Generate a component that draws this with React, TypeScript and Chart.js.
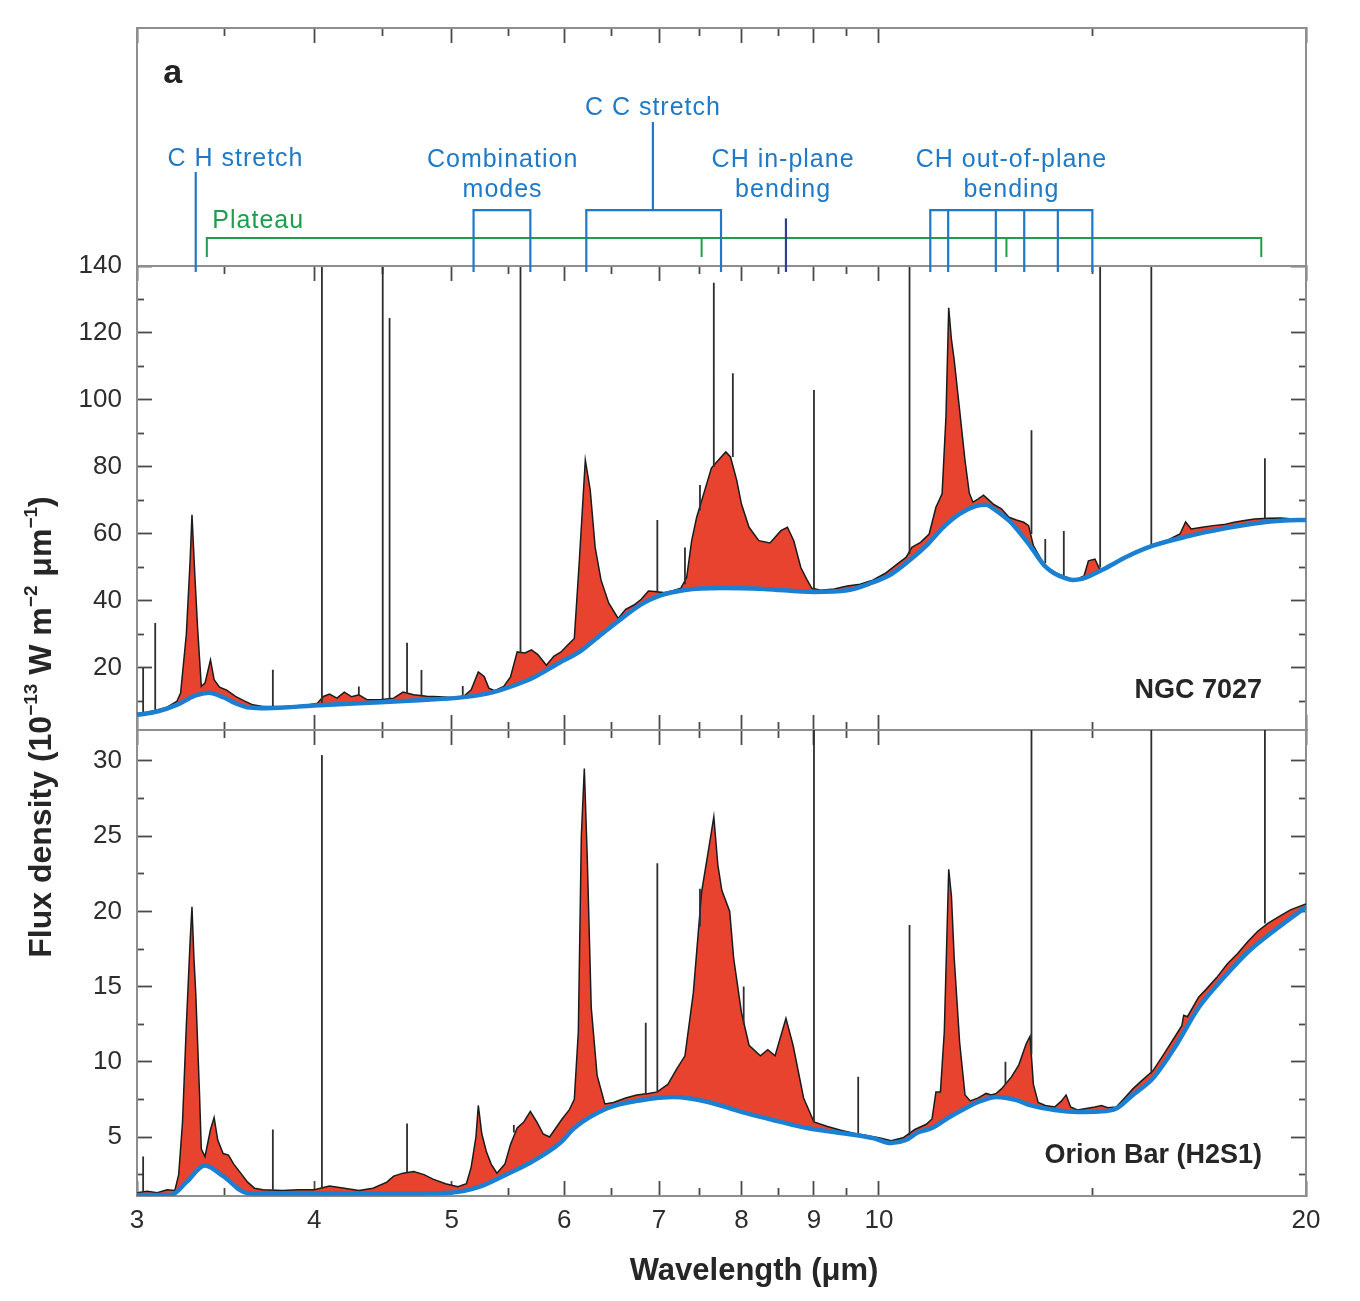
import React, { useEffect, useRef } from 'react';
import { Chart, registerables } from 'chart.js';

Chart.register(...registerables);

// ---------------- data ----------------
const X_MAJOR_TICKS = [3, 4, 5, 6, 7, 8, 9, 10, 20];
const X_MINOR_TICKS = [3.46, 4.47, 5.48, 6.48, 7.48, 8.49, 9.49, 14.14];
const NGC_Y_MAJOR = [20, 40, 60, 80, 100, 120, 140];
const NGC_Y_MINOR = [10, 30, 50, 70, 90, 110, 130];
const ORI_Y_MAJOR = [5, 10, 15, 20, 25, 30];
const ORI_Y_MINOR = [2.5, 7.5, 12.5, 17.5, 22.5, 27.5];

// NGC 7027 spectrum (wavelength in micron, flux density)
const NGC_WL = [3.00,3.05,3.10,3.15,3.20,3.22,3.25,3.27,3.28,3.295,3.31,3.33,3.35,3.38,3.40,3.43,3.47,3.52,3.57,3.62,3.68,3.80,3.95,4.02,4.06,4.10,4.15,4.20,4.25,4.30,4.36,4.45,4.55,4.62,4.70,4.80,4.90,5.00,5.10,5.16,5.22,5.27,5.31,5.36,5.44,5.50,5.56,5.63,5.69,5.75,5.83,5.90,5.97,6.04,6.10,6.15,6.21,6.26,6.31,6.37,6.45,6.55,6.63,6.72,6.80,6.88,6.95,7.05,7.15,7.25,7.32,7.38,7.44,7.55,7.62,7.73,7.80,7.86,7.94,8.00,8.10,8.23,8.38,8.53,8.62,8.71,8.81,8.90,8.97,9.10,9.30,9.50,9.70,9.90,10.10,10.30,10.45,10.55,10.70,10.85,10.97,11.08,11.15,11.20,11.25,11.30,11.40,11.50,11.58,11.65,11.75,11.85,11.95,12.05,12.20,12.35,12.50,12.65,12.75,12.85,12.95,13.05,13.20,13.35,13.50,13.65,13.80,13.95,14.05,14.20,14.32,14.50,14.80,15.10,15.40,15.70,16.00,16.30,16.45,16.60,16.90,17.20,17.50,17.80,18.10,18.40,18.80,19.20,19.60,20.00];
const NGC_FLUX = [6.4,6.8,7.5,8.3,10.0,12.5,30,52,65.7,48,32,14.5,15.5,22.4,16.5,14.3,13.4,11.5,10.2,9.0,8.5,8.5,8.9,9.5,11.5,12.2,11.0,12.8,11.4,12.0,10.5,10.5,11.0,12.8,12.0,11.6,11.4,11.2,11.6,13.5,18.8,17.5,14.0,13.2,14.5,17.3,24.8,24.5,25.4,24.0,20.8,23.5,24.8,27.0,28.8,52,82.1,73,56,46.3,39.4,34.8,37.5,38.8,40.5,43,42.8,42.5,43,43.8,47,58,65,74,79.7,82.7,84.5,83,76,69,62,58,57.3,61,62,58,50,46.3,43.8,43.2,43.6,44.5,45,46.2,48.2,51,53,56,57.5,60,68,72,95,127.5,118,112,97,82,72.2,69.5,70.5,71.6,70.2,68.8,67.5,65,64.2,63.5,62.5,56.5,54,51.5,49.5,48.2,47.4,46.6,46.6,47.5,52,52.5,49.2,50.5,52.5,54.4,55.9,57.2,58.3,60,63.6,61.5,62,62.5,62.8,63.5,64,64.5,64.7,64.8,64.5,64.3];
const NGC_CONT_WL = [3.00,3.10,3.20,3.30,3.37,3.45,3.52,3.60,3.70,4.00,4.30,4.70,5.10,5.35,5.55,5.70,5.95,6.15,6.35,6.55,6.80,7.00,7.30,7.75,8.30,9.00,9.50,9.85,10.20,10.50,10.80,11.10,11.40,11.70,11.90,12.05,12.20,12.40,12.60,12.80,12.95,13.10,13.30,13.50,13.70,13.90,14.10,14.40,15.00,15.60,16.50,17.50,18.50,19.30,20.00];
const NGC_CONT = [6.0,7.0,9.0,11.8,12.6,11.3,9.5,8.2,8.0,8.8,9.5,10.3,11.3,12.8,15.0,17.0,21.5,24.8,29.5,34.0,39.0,41.5,43.3,43.9,43.6,42.7,43.2,45.2,48.0,52.0,56.5,62.0,66.0,68.3,68.7,67.5,65.8,63.3,59.8,56.1,53.0,50.3,48.2,47.0,46.3,46.6,47.6,49.5,53.5,56.5,59.3,61.6,63.3,64.0,64.2];
const NGC_LINE_WL = [3.03,3.09,3.74,4.05,4.30,4.47,4.52,4.65,4.76,5.09,5.59,6.98,7.30,7.48,7.65,7.89,9.00,10.51,12.81,13.10,13.50,14.32,15.56,18.71];
const NGC_LINE_BASE = [6.7,7.4,8.4,9.5,11.8,10.5,10.8,12.5,11.7,11.4,24.6,42.7,45,67,80,83,43.5,54,60,51.3,47.4,50,56.2,64.6];
const NGC_LINE_PEAK = [20,33.4,19.5,150,14.5,150,124.5,27.5,19.4,14.6,150,64.2,56,74.6,135,108,103,150,91,58.5,60.9,150,150,82.6];

// Orion Bar (H2S1) spectrum
const ORI_WL = [3.00,3.05,3.10,3.15,3.19,3.21,3.23,3.25,3.27,3.28,3.29,3.30,3.32,3.33,3.35,3.38,3.40,3.42,3.45,3.48,3.51,3.55,3.59,3.63,3.68,3.80,3.90,4.00,4.10,4.20,4.30,4.40,4.50,4.55,4.62,4.70,4.78,4.85,4.95,5.05,5.12,5.16,5.20,5.22,5.25,5.29,5.33,5.38,5.45,5.50,5.56,5.62,5.68,5.74,5.80,5.86,5.92,5.98,6.05,6.10,6.14,6.17,6.20,6.23,6.27,6.33,6.41,6.50,6.63,6.75,6.88,6.98,7.05,7.10,7.20,7.30,7.40,7.50,7.60,7.65,7.70,7.75,7.85,7.90,8.00,8.10,8.25,8.35,8.45,8.60,8.70,8.85,9.00,9.20,9.40,9.60,9.80,10.00,10.20,10.40,10.60,10.80,10.90,10.97,11.05,11.12,11.20,11.25,11.30,11.40,11.50,11.60,11.75,11.90,12.00,12.10,12.20,12.30,12.40,12.55,12.70,12.78,12.85,12.95,13.10,13.30,13.45,13.55,13.65,13.80,14.00,14.20,14.35,14.50,14.70,14.90,15.10,15.30,15.60,15.90,16.20,16.35,16.40,16.50,16.80,17.00,17.30,17.60,17.90,18.20,18.50,18.80,19.10,19.50,20.00];
const ORI_FLUX = [1.3,1.4,1.3,1.5,1.45,2.5,6.0,12.4,18,20.3,17,14.6,8,4.2,3.7,5.5,6.3,4.8,3.9,3.8,3.2,2.6,2.0,1.6,1.5,1.45,1.5,1.5,1.75,1.6,1.45,1.6,2.0,2.4,2.6,2.7,2.5,2.2,1.9,1.7,1.9,3.0,5.0,7.1,5.2,4.0,3.2,2.6,3.2,4.5,5.6,6.0,6.7,6.0,5.2,5.0,5.6,6.2,6.8,7.5,12,25,29.5,23.5,13.6,9.1,7.2,7.3,7.6,7.8,7.9,8.0,8.3,8.5,9.5,10.4,14.6,21.3,24.6,26.3,23.1,21.4,20.0,16.9,13.3,11.1,10.4,10.8,10.4,12.9,11.1,7.6,6.0,5.7,5.45,5.25,5.1,4.95,4.75,4.95,5.5,5.85,6.2,8.0,8.0,12,22.8,21,16.9,11.3,7.8,7.4,7.6,7.9,7.8,7.9,8.2,8.6,9.0,9.8,11.2,11.7,8.5,7.3,7.1,7.0,7.4,7.8,7.0,6.8,6.9,7.0,7.1,6.95,7.0,7.6,8.2,8.7,9.4,10.6,11.8,12.4,13.1,13.0,14.3,14.8,15.6,16.5,17.2,18.0,18.7,19.2,19.6,20.1,20.5];
const ORI_CONT_WL = [3.00,3.17,3.25,3.35,3.45,3.59,3.80,4.20,4.60,4.98,5.22,5.45,5.69,5.96,6.10,6.43,6.80,7.17,7.58,8.00,8.45,8.90,9.40,9.90,10.20,10.45,10.65,10.90,11.20,11.50,11.80,12.10,12.50,12.80,13.30,13.80,14.30,14.70,15.10,15.60,16.20,16.80,17.50,18.20,19.10,20.00];
const ORI_CONT = [1.15,1.15,2.0,3.1,2.4,1.27,1.25,1.25,1.25,1.3,1.67,2.47,3.34,4.6,5.6,6.9,7.45,7.66,7.33,6.67,6.1,5.6,5.27,4.93,4.6,4.8,5.3,5.6,6.3,6.9,7.4,7.66,7.45,7.1,6.8,6.67,6.7,6.9,7.8,8.9,11.1,13.6,15.6,17.3,18.9,20.3];
const ORI_LINE_WL = [3.03,3.74,4.05,4.65,5.53,6.85,6.98,7.48,8.03,9.00,9.67,10.51,12.28,12.81,15.56,18.71];
const ORI_LINE_BASE = [1.35,1.5,1.55,2.65,5.3,7.9,8.0,19,12.5,6.0,5.2,4.9,8.5,10.5,9.2,19.2];
const ORI_LINE_PEAK = [3.7,5.5,30.4,5.9,5.8,12.6,23.2,21.5,15.0,40,9.0,19.1,10.0,40,40,40];

// band assignments (wavelengths in micron)
const CH_STRETCH_WL = 3.30;
const COMBINATION_RANGE = [5.18, 5.68];
const CC_STRETCH_RANGE = [6.22, 7.74];
const CC_STRETCH_CENTER = 6.93;
const CH_INPLANE_WL = 8.6;
const CH_OOP_WL = [10.87, 11.19, 12.09, 12.66, 13.37, 14.14];
const PLATEAU_RANGE = [3.36, 18.6];
const PLATEAU_MARKS = [7.5, 12.3];

// ---------------- layout & style ----------------
const FONT = "'Liberation Sans', Arial, Helvetica, sans-serif";
const CANVAS_W = 1360;
const CANVAS_H = 1301;
const PLOT_LEFT = 137;
const PLOT_RIGHT = 1306;
const Y_AXIS_W = 100;
const X_AXIS_H = 60;
const FRAME_COLOR = '#8e8e8e';
const FRAME_W = 2;
const TICK_COLOR = '#4a4a4a';
const TICK_W = 1.8;
const X_MAJOR_LEN = 15;
const X_MINOR_LEN = 8;
const Y_MAJOR_LEN = 15;
const Y_MINOR_LEN = 7;
const TICK_FONT = 26;
const TEXT_COLOR = '#2d2d2d';
const RED = '#e8432e';
const CONT_BLUE = '#1b80d2';
const SPEC_BLACK = '#1b1b1b';
const LINE_GRAY = '#2e2e2e';
const ANNOT_BLUE = '#1f79c6';
const ANNOT_NAVY = '#2e3f92';
const ANNOT_GREEN = '#1f9d4c';

// top-panel levels (panel scale 0..100)
const LEG_BOTTOM = -2.5;
const BRACKET_LEVEL = 23.5;
const PLATEAU_LEVEL = 11.8;
const PLATEAU_TICK_BOTTOM = 3.8;
const CH_STRETCH_TOP = 39.5;
const CC_STEM_TOP = 60.5;
const CH_INPLANE_TOP = 20;

const BAND_LABELS = [
  { text: 'C H stretch', wl: 3.52, level: 42 },
  { text: 'Combination', wl: 5.43, level: 41.5 },
  { text: 'modes', wl: 5.43, level: 29 },
  { text: 'C C stretch', wl: 6.93, level: 63.4 },
  { text: 'CH in-plane', wl: 8.56, level: 41.5 },
  { text: 'bending', wl: 8.56, level: 29 },
  { text: 'CH out-of-plane', wl: 12.4, level: 41.5 },
  { text: 'bending', wl: 12.4, level: 29 },
];

Chart.defaults.font.family = FONT;

// ---------------- helpers ----------------
const pairs = (xs: number[], ys: number[]) => xs.map((x, i) => ({ x, y: ys[i] }));
const spikes = (wl: number[], base: number[], peak: number[]) => {
  const out: any[] = [];
  wl.forEach((w, i) => {
    out.push({ x: w, y: base[i] }, { x: w, y: peak[i] }, { x: w, y: null });
  });
  return out;
};
const vseg = (x: number, y0: number, y1: number) => [{ x, y: y0 }, { x, y: y1 }, { x, y: null }];

function drawText(ctx: CanvasRenderingContext2D, text: string, x: number, y: number, o: any) {
  ctx.save();
  ctx.font = `${o.weight || 'normal'} ${o.size}px ${FONT}`;
  ctx.fillStyle = o.color || TEXT_COLOR;
  ctx.textAlign = o.align || 'center';
  ctx.textBaseline = o.baseline || 'alphabetic';
  if ('letterSpacing' in ctx) (ctx as any).letterSpacing = o.spacing || '0px';
  ctx.fillText(text, x, y);
  ctx.restore();
}

const setTicks = (vals: number[]) => (s: any) => {
  s.ticks = vals.map((v) => ({ value: v }));
};
const tickGrid = (len: number, show: boolean) => ({
  display: true,
  drawOnChartArea: false,
  drawTicks: show,
  tickLength: len,
  tickWidth: TICK_W,
  tickColor: TICK_COLOR,
  color: TICK_COLOR,
});

interface PanelSpec {
  top: number;
  bottom: number;
  yMin: number;
  yMax: number;
  yMajor: number[];
  yMinor: number[];
  yLabels: boolean;
  xLabels: boolean;
  ticksTop: boolean;
  ticksBottom: boolean;
  ticksSides: boolean;
}

function buildScales(p: PanelSpec) {
  const tickFont = { size: TICK_FONT, family: FONT };
  const frame = { display: true, color: FRAME_COLOR, width: FRAME_W };
  const noBorder = { display: false };
  return {
    x: {
      type: 'logarithmic', axis: 'x', position: 'bottom', min: 3, max: 20,
      afterBuildTicks: setTicks(X_MAJOR_TICKS),
      afterFit: (s: any) => { s.height = p.xLabels ? X_AXIS_H : 0; },
      ticks: {
        display: p.xLabels, autoSkip: false, maxRotation: 0, minRotation: 0,
        padding: 24, font: tickFont, color: TEXT_COLOR,
        callback: (v: any) => String(v),
      },
      grid: tickGrid(-X_MAJOR_LEN, p.ticksBottom),
      border: frame,
    },
    xTop: {
      type: 'logarithmic', axis: 'x', position: 'top', min: 3, max: 20,
      afterBuildTicks: setTicks(X_MAJOR_TICKS),
      afterFit: (s: any) => { s.height = 0; },
      ticks: { display: false },
      grid: tickGrid(-X_MAJOR_LEN, p.ticksTop),
      border: frame,
    },
    // minor ticks: axes pinned to panel edges (positive length points down for x)
    xMinB: {
      type: 'logarithmic', axis: 'x', position: { y: p.yMin }, min: 3, max: 20,
      afterBuildTicks: setTicks(X_MINOR_TICKS),
      ticks: { display: false },
      grid: tickGrid(-X_MINOR_LEN, p.ticksBottom),
      border: noBorder,
    },
    xMinT: {
      type: 'logarithmic', axis: 'x', position: { y: p.yMax }, min: 3, max: 20,
      afterBuildTicks: setTicks(X_MINOR_TICKS),
      ticks: { display: false },
      grid: tickGrid(X_MINOR_LEN, p.ticksTop),
      border: noBorder,
    },
    y: {
      type: 'linear', axis: 'y', position: 'left', min: p.yMin, max: p.yMax,
      afterBuildTicks: setTicks(p.yMajor),
      afterFit: (s: any) => { s.width = Y_AXIS_W; },
      ticks: {
        display: p.yLabels, padding: 30, font: tickFont, color: TEXT_COLOR,
        callback: (v: any) => String(v),
      },
      grid: tickGrid(-Y_MAJOR_LEN, p.ticksSides),
      border: frame,
    },
    y2: {
      type: 'linear', axis: 'y', position: 'right', min: p.yMin, max: p.yMax,
      afterBuildTicks: setTicks(p.yMajor),
      afterFit: (s: any) => { s.width = 0; },
      ticks: { display: false },
      grid: tickGrid(-Y_MAJOR_LEN, p.ticksSides),
      border: frame,
    },
    // minor ticks: axes pinned to panel edges (positive length points left for y)
    yMinL: {
      type: 'linear', axis: 'y', position: { x: 3 }, min: p.yMin, max: p.yMax,
      afterBuildTicks: setTicks(p.yMinor),
      ticks: { display: false },
      grid: tickGrid(-Y_MINOR_LEN, p.ticksSides),
      border: noBorder,
    },
    yMinR: {
      type: 'linear', axis: 'y', position: { x: 20 }, min: p.yMin, max: p.yMax,
      afterBuildTicks: setTicks(p.yMinor),
      ticks: { display: false },
      grid: tickGrid(Y_MINOR_LEN, p.ticksSides),
      border: noBorder,
    },
  };
}

function baseOptions(p: PanelSpec) {
  return {
    responsive: false,
    maintainAspectRatio: false,
    animation: false,
    devicePixelRatio: 1,
    events: [],
    layout: {
      autoPadding: false,
      padding: {
        left: PLOT_LEFT - Y_AXIS_W,
        right: CANVAS_W - PLOT_RIGHT,
        top: p.top,
        bottom: CANVAS_H - p.bottom - (p.xLabels ? X_AXIS_H : 0),
      },
    },
    plugins: { legend: { display: false }, tooltip: { enabled: false }, title: { display: false } },
    elements: { point: { radius: 0 } },
    scales: buildScales(p),
  };
}

function spectrumDatasets(contWl: number[], cont: number[], lineWl: number[], lineBase: number[], linePeak: number[], wl: number[], flux: number[]) {
  return [
    {
      label: 'continuum', data: pairs(contWl, cont), borderColor: CONT_BLUE, borderWidth: 4.5,
      pointRadius: 0, fill: false, cubicInterpolationMode: 'monotone', xAxisID: 'x', yAxisID: 'y',
    },
    {
      label: 'lines', data: spikes(lineWl, lineBase, linePeak), borderColor: LINE_GRAY, borderWidth: 1.8,
      pointRadius: 0, fill: false, spanGaps: false, xAxisID: 'x', yAxisID: 'y',
    },
    {
      label: 'spectrum', data: pairs(wl, flux), borderColor: SPEC_BLACK, borderWidth: 1.5,
      pointRadius: 0, xAxisID: 'x', yAxisID: 'y',
      fill: { target: 0, above: RED, below: 'rgba(0,0,0,0)' },
    },
  ];
}

// ---------------- configs ----------------
function topConfig() {
  const spec: PanelSpec = {
    top: 28, bottom: 266, yMin: 0, yMax: 100, yMajor: [], yMinor: [],
    yLabels: false, xLabels: false, ticksTop: true, ticksBottom: false, ticksSides: false,
  };
  const clip = { left: 2, top: 2, right: 2, bottom: 12 };
  const common = { pointRadius: 0, fill: false, spanGaps: false, xAxisID: 'x', yAxisID: 'y', clip, borderCapStyle: 'butt' };
  const oopData: any[] = [
    { x: CH_OOP_WL[0], y: LEG_BOTTOM }, { x: CH_OOP_WL[0], y: BRACKET_LEVEL },
    { x: CH_OOP_WL[CH_OOP_WL.length - 1], y: BRACKET_LEVEL }, { x: CH_OOP_WL[CH_OOP_WL.length - 1], y: LEG_BOTTOM },
    { x: CH_OOP_WL[0], y: null },
  ];
  CH_OOP_WL.slice(1, -1).forEach((w) => oopData.push(...vseg(w, LEG_BOTTOM, BRACKET_LEVEL)));
  const plateauData: any[] = [
    { x: PLATEAU_RANGE[0], y: PLATEAU_TICK_BOTTOM }, { x: PLATEAU_RANGE[0], y: PLATEAU_LEVEL },
    { x: PLATEAU_RANGE[1], y: PLATEAU_LEVEL }, { x: PLATEAU_RANGE[1], y: PLATEAU_TICK_BOTTOM },
    { x: PLATEAU_RANGE[0], y: null },
  ];
  PLATEAU_MARKS.forEach((w) => plateauData.push(...vseg(w, PLATEAU_TICK_BOTTOM, PLATEAU_LEVEL)));
  const datasets = [
    { ...common, label: 'CH stretch', data: vseg(CH_STRETCH_WL, LEG_BOTTOM, CH_STRETCH_TOP), borderColor: ANNOT_BLUE, borderWidth: 2.2 },
    {
      ...common, label: 'Combination', borderColor: ANNOT_BLUE, borderWidth: 2.2,
      data: [
        { x: COMBINATION_RANGE[0], y: LEG_BOTTOM }, { x: COMBINATION_RANGE[0], y: BRACKET_LEVEL },
        { x: COMBINATION_RANGE[1], y: BRACKET_LEVEL }, { x: COMBINATION_RANGE[1], y: LEG_BOTTOM },
      ],
    },
    {
      ...common, label: 'CC stretch', borderColor: ANNOT_BLUE, borderWidth: 2.2,
      data: [
        { x: CC_STRETCH_RANGE[0], y: LEG_BOTTOM }, { x: CC_STRETCH_RANGE[0], y: BRACKET_LEVEL },
        { x: CC_STRETCH_RANGE[1], y: BRACKET_LEVEL }, { x: CC_STRETCH_RANGE[1], y: LEG_BOTTOM },
        { x: CC_STRETCH_RANGE[0], y: null },
        ...vseg(CC_STRETCH_CENTER, BRACKET_LEVEL, CC_STEM_TOP),
      ],
    },
    { ...common, label: 'CH in-plane', data: vseg(CH_INPLANE_WL, LEG_BOTTOM, CH_INPLANE_TOP), borderColor: ANNOT_NAVY, borderWidth: 2.2 },
    { ...common, label: 'CH oop', data: oopData, borderColor: ANNOT_BLUE, borderWidth: 2.2 },
    { ...common, label: 'Plateau', data: plateauData, borderColor: ANNOT_GREEN, borderWidth: 2 },
  ];
  const labelsPlugin = {
    id: 'bandLabels',
    afterDatasetsDraw(chart: any) {
      const { ctx } = chart;
      const xs = chart.scales.x;
      const ys = chart.scales.y;
      BAND_LABELS.forEach((l) => {
        drawText(ctx, l.text, xs.getPixelForValue(l.wl), ys.getPixelForValue(l.level), {
          size: 25, color: ANNOT_BLUE, align: 'center', spacing: '1px',
        });
      });
      drawText(ctx, 'Plateau', xs.getPixelForValue(3.39), ys.getPixelForValue(16), {
        size: 25, color: ANNOT_GREEN, align: 'left', spacing: '1px',
      });
      drawText(ctx, 'a', xs.getPixelForValue(3.13), ys.getPixelForValue(77), {
        size: 34, weight: 'bold', color: '#222', align: 'left',
      });
    },
  };
  return { type: 'line', data: { datasets }, options: baseOptions(spec), plugins: [labelsPlugin] };
}

function midConfig() {
  const spec: PanelSpec = {
    top: 266, bottom: 730, yMin: 1.49, yMax: 140, yMajor: NGC_Y_MAJOR, yMinor: NGC_Y_MINOR,
    yLabels: true, xLabels: false, ticksTop: true, ticksBottom: true, ticksSides: true,
  };
  const namePlugin = {
    id: 'ngcName',
    afterDatasetsDraw(chart: any) {
      drawText(chart.ctx, 'NGC 7027', chart.scales.x.getPixelForValue(18.62), chart.scales.y.getPixelForValue(11.0), {
        size: 27, weight: 'bold', color: '#262626', align: 'right',
      });
    },
  };
  return {
    type: 'line',
    data: { datasets: spectrumDatasets(NGC_CONT_WL, NGC_CONT, NGC_LINE_WL, NGC_LINE_BASE, NGC_LINE_PEAK, NGC_WL, NGC_FLUX) },
    options: baseOptions(spec),
    plugins: [namePlugin],
  };
}

function botConfig() {
  const spec: PanelSpec = {
    top: 730, bottom: 1196, yMin: 1.08, yMax: 32.06, yMajor: ORI_Y_MAJOR, yMinor: ORI_Y_MINOR,
    yLabels: true, xLabels: true, ticksTop: true, ticksBottom: true, ticksSides: true,
  };
  const textPlugin = {
    id: 'oriText',
    afterDraw(chart: any) {
      const { ctx } = chart;
      drawText(ctx, 'Orion Bar (H2S1)', chart.scales.x.getPixelForValue(18.62), chart.scales.y.getPixelForValue(3.27), {
        size: 27, weight: 'bold', color: '#262626', align: 'right',
      });
      // x-axis title
      drawText(ctx, 'Wavelength (μm)', 754, 1271, { size: 31, weight: 'bold', color: '#262626', baseline: 'middle' });
      // y-axis title with superscripts
      const runs: [string, boolean][] = [
        ['Flux density (10', false], ['−13', true], [' W m', false], ['−2', true], [' μm', false], ['−1', true], [')', false],
      ];
      const size = 32;
      const supSize = 19;
      ctx.save();
      ctx.translate(42, 727);
      ctx.rotate(-Math.PI / 2);
      ctx.fillStyle = '#262626';
      ctx.textBaseline = 'middle';
      ctx.textAlign = 'left';
      let total = 0;
      runs.forEach(([t, sup]) => {
        ctx.font = `bold ${sup ? supSize : size}px ${FONT}`;
        total += ctx.measureText(t).width;
      });
      let x = -total / 2;
      runs.forEach(([t, sup]) => {
        ctx.font = `bold ${sup ? supSize : size}px ${FONT}`;
        ctx.fillText(t, x, sup ? -10 : 0);
        x += ctx.measureText(t).width;
      });
      ctx.restore();
    },
  };
  return {
    type: 'line',
    data: { datasets: spectrumDatasets(ORI_CONT_WL, ORI_CONT, ORI_LINE_WL, ORI_LINE_BASE, ORI_LINE_PEAK, ORI_WL, ORI_FLUX) },
    options: baseOptions(spec),
    plugins: [textPlugin],
  };
}

export default function App() {
  const topRef = useRef<HTMLCanvasElement>(null);
  const midRef = useRef<HTMLCanvasElement>(null);
  const botRef = useRef<HTMLCanvasElement>(null);

  useEffect(() => {
    const charts = [
      new Chart(midRef.current as HTMLCanvasElement, midConfig() as any),
      new Chart(botRef.current as HTMLCanvasElement, botConfig() as any),
      new Chart(topRef.current as HTMLCanvasElement, topConfig() as any),
    ];
    return () => charts.forEach((c) => c.destroy());
  }, []);

  const cStyle: React.CSSProperties = { position: 'absolute', left: 0, top: 0 };
  return (
    <div style={{ position: 'absolute', left: 0, top: 0, width: CANVAS_W, height: CANVAS_H, background: '#ffffff' }}>
      <canvas ref={midRef} width={CANVAS_W} height={CANVAS_H} style={cStyle} />
      <canvas ref={botRef} width={CANVAS_W} height={CANVAS_H} style={cStyle} />
      <canvas ref={topRef} width={CANVAS_W} height={CANVAS_H} style={cStyle} />
    </div>
  );
}
